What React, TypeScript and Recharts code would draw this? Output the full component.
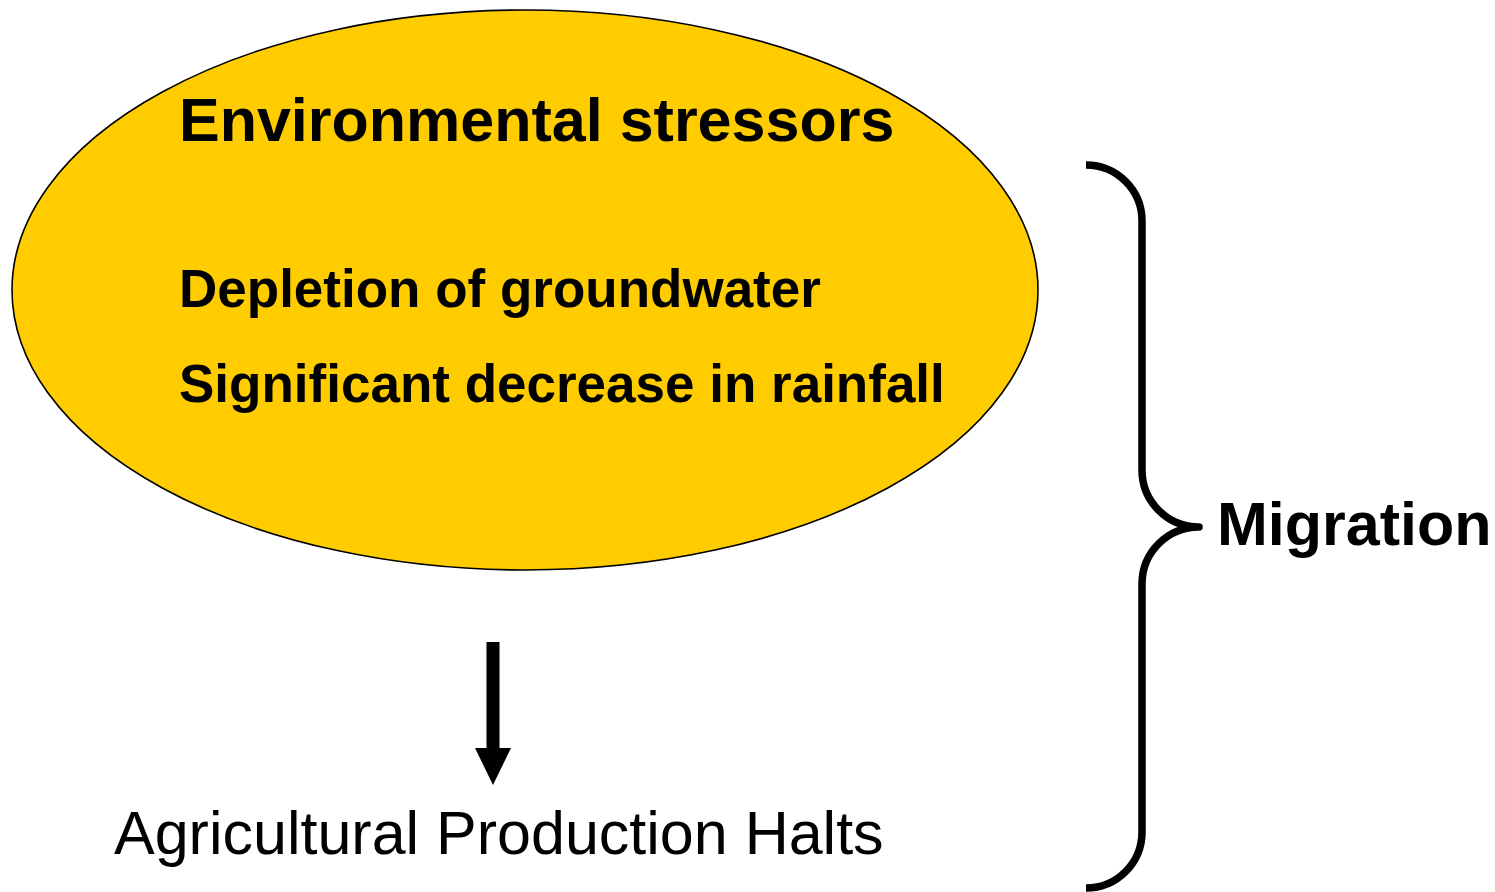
import { ComposedChart, ReferenceDot, ReferenceLine, Scatter, XAxis, YAxis } from "recharts";

// diagram text
const headline = ["Environmental stressors"];
const stressors = ["Depletion of groundwater", "Significant decrease in rainfall"];
const outcome = ["Agricultural Production Halts"];
const result = ["Migration"];

const W = 1495;
const H = 892;
const font = "'Liberation Sans', Arial, Helvetica, sans-serif";

// layout (chart units == pixels)
const ellipsePos = [{ x: 525, y: 290 }];
const headlinePos = [{ x: 179, y: 141 }];
const stressorPos = [
  { x: 179, y: 307 },
  { x: 179, y: 402 },
];
const outcomePos = [{ x: 114, y: 854 }];
const resultPos = [{ x: 1217, y: 545 }];

const withText = (pos: { x: number; y: number }[], texts: string[]) =>
  pos.map((p, i) => ({ ...p, text: texts[i] }));

const textShape = (size: number, weight: string) => (props: any) => (
  <text
    x={props.cx}
    y={props.cy}
    fontFamily={font}
    fontSize={size}
    fontWeight={weight}
    fill="#000"
  >
    {props.payload.text}
  </text>
);

const EllipseShape = (props: any) => (
  <ellipse cx={props.cx} cy={props.cy} rx={513} ry={280} fill="#FFCC00" stroke="#000" strokeWidth={1.6} />
);

const ArrowHead = (props: any) => {
  const { cx, cy } = props;
  return <polygon points={`${cx - 18},${cy} ${cx + 18},${cy} ${cx},${cy + 37}`} fill="#000" />;
};

// brace anchored at its tip
const Brace = (props: any) => {
  const { cx, cy } = props;
  const x0 = cx - 113;
  const xv = cx - 57;
  const d = [
    `M${x0},${cy - 362}`,
    `A56,56 0 0 1 ${xv},${cy - 306}`,
    `L${xv},${cy - 57}`,
    `A57,57 0 0 0 ${cx},${cy}`,
    `A57,57 0 0 0 ${xv},${cy + 57}`,
    `L${xv},${cy + 305}`,
    `A56,56 0 0 1 ${x0},${cy + 361}`,
  ].join(" ");
  return <path d={d} fill="none" stroke="#000" strokeWidth={7.5} strokeLinejoin="round" />;
};

export default function App() {
  return (
    <div style={{ position: "absolute", left: 0, top: 0, width: W, height: H, background: "#fff" }}>
      <ComposedChart width={W} height={H} margin={{ top: 0, right: 0, bottom: 0, left: 0 }}>
        <XAxis type="number" dataKey="x" domain={[0, W]} hide allowDataOverflow />
        <YAxis type="number" dataKey="y" domain={[0, H]} reversed hide allowDataOverflow />
        <Scatter data={ellipsePos} shape={EllipseShape} isAnimationActive={false} />
        <Scatter data={withText(headlinePos, headline)} shape={textShape(61, "bold")} isAnimationActive={false} />
        <Scatter data={withText(stressorPos, stressors)} shape={textShape(53, "bold")} isAnimationActive={false} />
        <Scatter data={withText(outcomePos, outcome)} shape={textShape(61, "normal")} isAnimationActive={false} />
        <Scatter data={withText(resultPos, result)} shape={textShape(61, "bold")} isAnimationActive={false} />
        <ReferenceLine
          segment={[
            { x: 493, y: 642 },
            { x: 493, y: 750 },
          ]}
          stroke="#000"
          strokeWidth={13}
        />
        <ReferenceDot x={493} y={748} shape={ArrowHead} />
        <ReferenceDot x={1199} y={527} shape={Brace} />
      </ComposedChart>
    </div>
  );
}
